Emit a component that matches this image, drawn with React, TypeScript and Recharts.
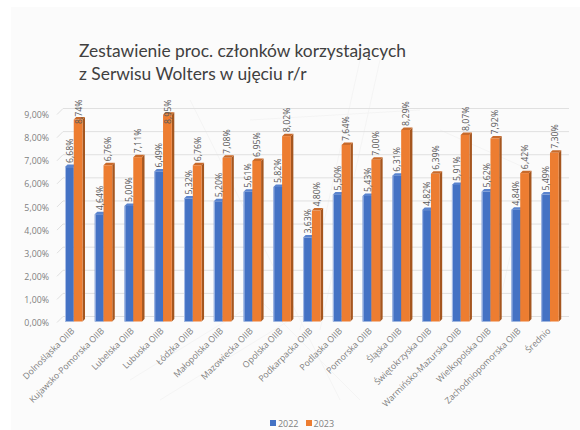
import React from 'react';
import { BarChart, Bar, XAxis, YAxis, CartesianGrid, Legend, LabelList } from 'recharts';

const FONT = '"Open Sans", sans-serif';

const categories = [
    'Dolnośląska OIIB', 'Kujawsko-Pomorska OIIB', 'Lubelska OIIB', 'Lubuska OIIB', 'Łódzka OIIB',
    'Małopolska OIIB', 'Mazowiecka OIIB', 'Opolska OIIB', 'Podkarpacka OIIB', 'Podlaska OIIB',
    'Pomorska OIIB', 'Śląska OIIB', 'Świętokrzyska OIIB', 'Warmińsko-Mazurska OIIB',
    'Wielkopolska OIIB', 'Zachodniopomorska OIIB', 'Średnio',
];
const values2022 = [6.68, 4.64, 5.0, 6.49, 5.32, 5.2, 5.61, 5.82, 3.63, 5.5, 5.43, 6.31, 4.82, 5.91, 5.62, 4.84, 5.49];
const values2023 = [8.74, 6.76, 7.11, 8.95, 6.76, 7.08, 6.95, 8.02, 4.8, 7.64, 7.0, 8.29, 6.39, 8.07, 7.92, 6.42, 7.3];
const yTicks = [0, 1, 2, 3, 4, 5, 6, 7, 8, 9];

const data = categories.map((name, i) => ({ name, y2022: values2022[i], y2023: values2023[i] }));

const pct = (v: number) => v.toFixed(2).replace('.', ',') + '%';

// fake 3D column: front face, right side, top
const Column3D = ({ x, y, width, height, front, side, top, edge }: any) => {
    const d = 2.5;
    return (
        <g>
            <polygon points={`${x + width},${y} ${x + width + d},${y - d} ${x + width + d},${y + height - d} ${x + width},${y + height}`} fill={side} />
            <polygon points={`${x},${y} ${x + d},${y - d} ${x + width + d},${y - d} ${x + width},${y}`} fill={top} />
            <rect x={x} y={y} width={width} height={height} fill={front} />
            {edge && <rect x={x} y={y} width={1} height={height} fill={edge} />}
        </g>
    );
};

const BarValueLabel = ({ x, y, width, value }: any) => {
    const textLen = 24;
    let bottom = y - 4;
    // long labels get pushed back down onto the bar
    if (bottom - textLen < 100) bottom = 100 + textLen;
    const cx = x + width / 2 + 0.5;
    return (
        <text
            x={cx}
            y={bottom}
            transform={`rotate(-90 ${cx} ${bottom})`}
            textAnchor="start"
            dominantBaseline="central"
            fontSize={8.8}
            fontFamily={FONT}
            fill="#595959"
        >
            {pct(value)}
        </text>
    );
};

const CategoryTick = ({ x, y, payload }: any) => (
    <text
        x={x + 1}
        y={y + 2}
        transform={`rotate(-45 ${x + 1} ${y + 2})`}
        textAnchor="end"
        fontSize={8.7}
        fontFamily={FONT}
        fill="#7f7f7f"
    >
        {payload.value}
    </text>
);

// gridlines sit on the back wall, with a small slanted step on the left
const WallLine = ({ x1, x2, y1 }: any) => (
    <g stroke="#e0e0e0" strokeWidth={1} fill="none">
        <line x1={x1 - 2} y1={y1 + 1} x2={x1 + 4} y2={y1 - 5} />
        <line x1={x1 + 4} y1={y1 - 5} x2={x2 + 4} y2={y1 - 5} />
    </g>
);

const LegendBox = () => (
    <div style={{ display: 'flex', justifyContent: 'center', height: 14, alignItems: 'center', paddingLeft: 30, fontSize: 9, fontFamily: FONT, color: '#7f7f7f' }}>
        <span style={{ width: 6, height: 6, background: '#4472c4', marginRight: 2 }} />
        <span style={{ marginRight: 7 }}>2022</span>
        <span style={{ width: 6, height: 6, background: '#ed7d31', marginRight: 2 }} />
        <span>2023</span>
    </div>
);

export default function App() {
    return (
        <div style={{ position: 'absolute', left: 0, top: 0, width: 580, height: 430, background: '#fff', overflow: 'hidden' }}>
            <div style={{ position: 'absolute', left: 11, top: 7, width: 569, height: 423, background: '#fbfbfb' }} />
            <svg width={580} height={430} style={{ position: 'absolute', left: 0, top: 0 }} stroke="#f4f4f4" fill="none">
                <path d="M130 380 L260 300 L360 400 M160 400 L290 320 M190 100 L340 400 M360 60 L300 330 M380 60 L320 330 M440 130 L530 170 L500 300 M250 120 L420 110" />
            </svg>
            <div style={{ position: 'absolute', left: 79, top: 39, fontSize: 17.4, lineHeight: '23px', fontFamily: 'Lato, sans-serif', color: '#404040', whiteSpace: 'nowrap' }}>
                Zestawienie proc. członków korzystających
                <br />
                z Serwisu Wolters w ujęciu r/r
            </div>
            <div style={{ position: 'absolute', left: 0, top: 0 }}>
                <BarChart
                    width={580}
                    height={430}
                    data={data}
                    barSize={8.75}
                    barGap={0}
                    margin={{ top: 113.5, right: 15, bottom: 0, left: 9 }}
                >
                    <CartesianGrid vertical={false} horizontal={<WallLine />} />
                    <XAxis
                        dataKey="name"
                        interval={0}
                        height={94.5}
                        axisLine={false}
                        tickLine={false}
                        tick={<CategoryTick />}
                    />
                    <YAxis
                        width={50}
                        domain={[0, 9]}
                        ticks={yTicks}
                        tickFormatter={pct}
                        axisLine={false}
                        tickLine={false}
                        tickMargin={4}
                        dy={1.5}
                        tick={{ fontSize: 8.8, fontFamily: FONT, fill: '#7f7f7f' }}
                    />
                    <Legend content={<LegendBox />} verticalAlign="bottom" />
                    <Bar
                        dataKey="y2022"
                        name="2022"
                        fill="#4472c4"
                        isAnimationActive={false}
                        shape={<Column3D front="#4472c4" side="#2f5597" top="#5a84cf" edge="#a9bde6" />}
                    >
                        <LabelList dataKey="y2022" content={<BarValueLabel />} />
                    </Bar>
                    <Bar
                        dataKey="y2023"
                        name="2023"
                        fill="#ed7d31"
                        isAnimationActive={false}
                        shape={<Column3D front="#ed7d31" side="#a5561f" top="#c96a2a" />}
                    >
                        <LabelList dataKey="y2023" content={<BarValueLabel />} />
                    </Bar>
                </BarChart>
            </div>
        </div>
    );
}
